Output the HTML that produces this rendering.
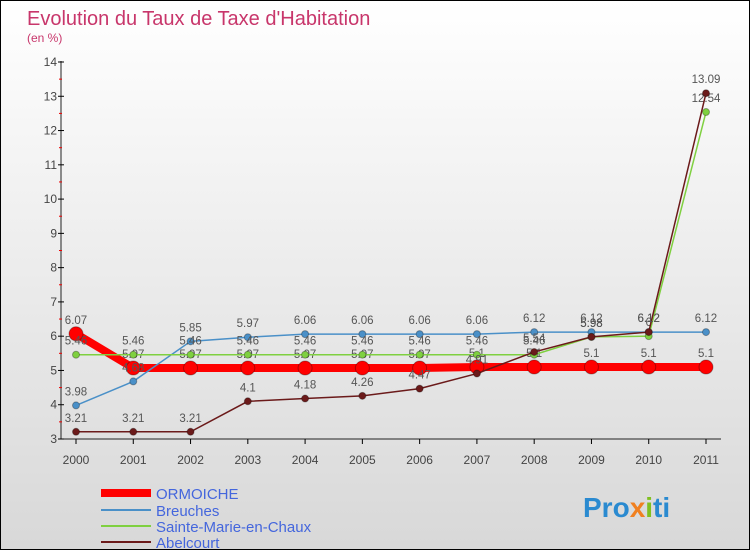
<!DOCTYPE html>
<html><head><meta charset="utf-8"><style>
body{margin:0}
#c{width:748px;height:548px;border:1px solid #000;background:linear-gradient(#fff,#d8d8d8);position:relative;overflow:hidden;font-family:"Liberation Sans",sans-serif}
</style></head><body>
<div id="c">
<svg id="s" width="748" height="548">
<text x="26" y="24" font-size="20" fill="#c8366b">Evolution du Taux de Taxe d'Habitation</text>
<text x="26" y="41" font-size="12" fill="#c8366b">(en %)</text>
<g id="g"></g>
<g font-size="15" fill="#4466dd">
<line x1="100" y1="492" x2="150" y2="492" stroke="#f00" stroke-width="8"/><text x="155" y="498">ORMOICHE</text>
<line x1="100" y1="509" x2="150" y2="509" stroke="#4a90c8" stroke-width="2"/><text x="155" y="515">Breuches</text>
<line x1="100" y1="525" x2="150" y2="525" stroke="#7fd040" stroke-width="2"/><text x="155" y="531">Sainte-Marie-en-Chaux</text>
<line x1="100" y1="541" x2="150" y2="541" stroke="#6b1a1a" stroke-width="2"/><text x="155" y="547">Abelcourt</text>
</g>
<text x="582" y="516" font-size="28" font-weight="bold" fill="#2a8ad0">Pro<tspan fill="#f08020">x</tspan><tspan fill="#80c020">i</tspan>ti</text>
</svg>
</div>
<script>
const years=["2000","2001","2002","2003","2004","2005","2006","2007","2008","2009","2010","2011"];
const yTicks=[3,4,5,6,7,8,9,10,11,12,13,14];
const ormoiche=[6.07,5.07,5.07,5.07,5.07,5.07,5.07,5.1,5.1,5.1,5.1,5.1];
const breuches=[3.98,4.68,5.85,5.97,6.06,6.06,6.06,6.06,6.12,6.12,6.12,6.12];
const sainteMarie=[5.46,5.46,5.46,5.46,5.46,5.46,5.46,5.46,5.46,5.98,6,12.54];
const abelcourt=[3.21,3.21,3.21,4.1,4.18,4.26,4.47,4.91,5.54,5.98,6.12,13.09];
const NS="http://www.w3.org/2000/svg",g=document.getElementById('g');
const X=i=>75+i*(630/11), Y=v=>438-(v-3)*(377/11);
function el(t,a,p){const e=document.createElementNS(NS,t);for(const k in a)e.setAttribute(k,a[k]);(p||g).appendChild(e);return e;}
const ax=el('line',{x1:60,y1:60,x2:60,y2:438,stroke:'#222'});


const xa=el('line',{x1:60,y1:438,x2:720,y2:438,stroke:'#222'});


yTicks.forEach(v=>{el('line',{x1:57,y1:Y(v),x2:63,y2:Y(v),stroke:'#000'});
if(v<14)el('line',{x1:58,y1:Y(v+0.5),x2:61,y2:Y(v+0.5),stroke:'#e00'});
const t=el('text',{x:56,y:Y(v)+4,'font-size':12,'text-anchor':'end',fill:'#444'});t.textContent=v;

});
years.forEach((y,i)=>{el('line',{x1:X(i),y1:438,x2:X(i),y2:443,stroke:'#000'});
const t=el('text',{x:X(i),y:463,'font-size':12,'text-anchor':'middle',fill:'#444'});t.textContent=y;

});
function series(d,col,w,r,name){
const p=el('polyline',{points:d.map((v,i)=>X(i)+','+Y(v)).join(' '),fill:'none',stroke:col,'stroke-width':w});


d.forEach((v,i)=>{const c=el('circle',{cx:X(i),cy:Y(v),r:r,fill:col,stroke:'rgba(0,0,0,0.3)'});


const t=el('text',{x:X(i),y:Y(v)-10,'font-size':11.5,'text-anchor':'middle',fill:'#555'});t.textContent=v;

});}
series(ormoiche,'#f00',8,7,'ormoiche');
series(breuches,'#4a90c8',1.5,3.5,'breuches');
series(sainteMarie,'#7fd040',1.5,3.5,'sainte-marie');
series(abelcourt,'#6b1a1a',1.5,3.5,'abelcourt');
</script>
</body></html>
